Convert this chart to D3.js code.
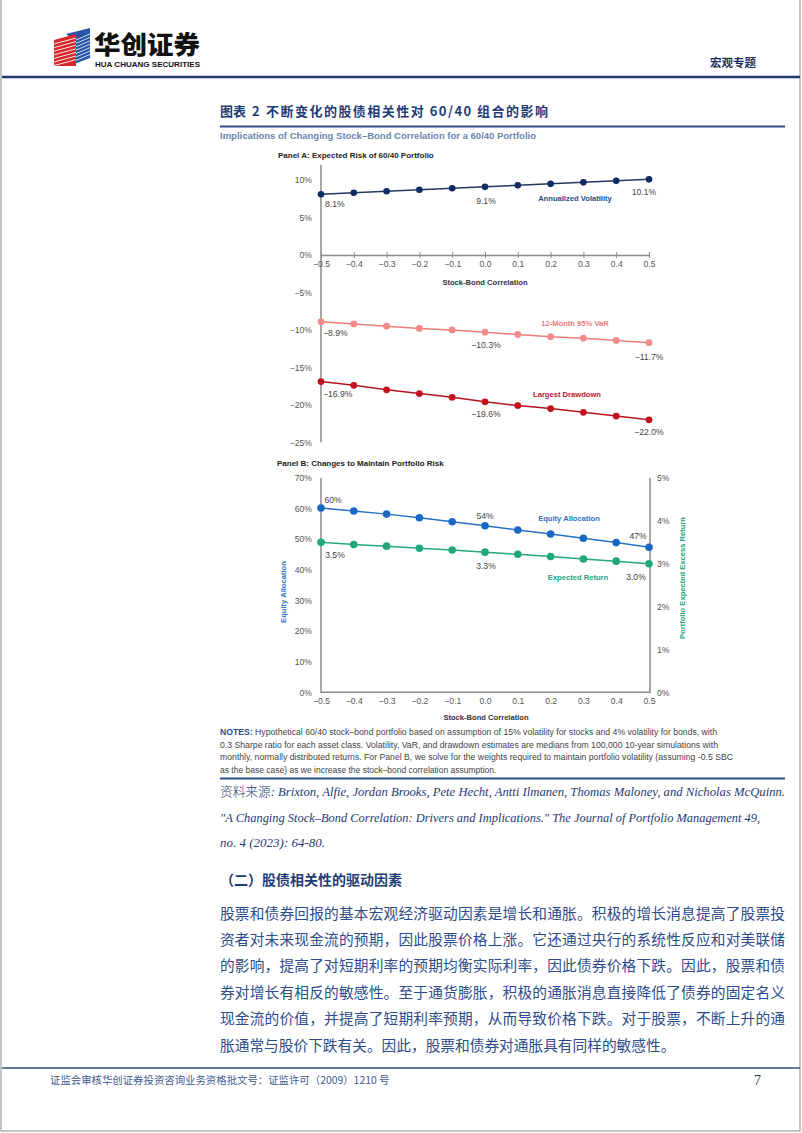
<!DOCTYPE html>
<html><head><meta charset="utf-8">
<script src="https://cdn.jsdelivr.net/npm/d3@7"></script>
<style>body{margin:0;background:#fff} svg{display:block}</style>
</head><body><svg id="page" width="802" height="1133"></svg>
<script>
// ---------- DATA ----------
const correlation = [-0.5,-0.4,-0.3,-0.2,-0.1,0,0.1,0.2,0.3,0.4,0.5];
const annualizedVolatility = [8.1,8.3,8.5,8.7,8.9,9.1,9.3,9.5,9.7,9.9,10.1];
const var95 = [-8.9,-9.2,-9.5,-9.8,-10.0,-10.3,-10.6,-10.9,-11.1,-11.4,-11.7];
const largestDrawdown = [-16.9,-17.4,-18.0,-18.5,-19.0,-19.6,-20.1,-20.5,-21.0,-21.5,-22.0];
const equityAllocation = [60.2,59.2,58.2,57.0,55.7,54.4,53.0,51.7,50.3,48.9,47.4];
const expectedReturn = [3.50,3.45,3.41,3.36,3.32,3.27,3.22,3.17,3.11,3.06,3.00];
const panelATicks = [-25,-20,-15,-10,-5,0,5,10];
const panelBLeftTicks = [0,10,20,30,40,50,60,70];
const panelBRightTicks = [0,1,2,3,4,5];
const labelledIdx = [0,5,10];

const notesLines = [
 "Hypothetical 60/40 stock–bond portfolio based on assumption of 15% volatility for stocks and 4% volatility for bonds, with",
 "0.3 Sharpe ratio for each asset class. Volatility, VaR, and drawdown estimates are medians from 100,000 10-year simulations with",
 "monthly, normally distributed returns. For Panel B, we solve for the weights required to maintain portfolio volatility (assuming -0.5 SBC",
 "as the base case) as we increase the stock–bond correlation assumption."
];
const sourceLines = [
 "Brixton, Alfie, Jordan Brooks, Pete Hecht, Antti Ilmanen, Thomas Maloney, and Nicholas McQuinn.",
 "\"A Changing Stock–Bond Correlation: Drivers and Implications.\" The Journal of Portfolio Management 49,",
 "no. 4 (2023): 64-80."
];
const bodyLines = [
 "股票和债券回报的基本宏观经济驱动因素是增长和通胀。积极的增长消息提高了股票投",
 "资者对未来现金流的预期，因此股票价格上涨。它还通过央行的系统性反应和对美联储",
 "的影响，提高了对短期利率的预期均衡实际利率，因此债券价格下跌。因此，股票和债",
 "券对增长有相反的敏感性。至于通货膨胀，积极的通胀消息直接降低了债券的固定名义",
 "现金流的价值，并提高了短期利率预期，从而导致价格下跌。对于股票，不断上升的通",
 "胀通常与股价下跌有关。因此，股票和债券对通胀具有同样的敏感性。"
];

// ---------- PAGE ----------
const svg = d3.select("#page");
const CJK = "'Noto Sans CJK SC', sans-serif";
const SANS = "'Liberation Sans', Arial, sans-serif";
const SERIF = "'Liberation Serif', 'Times New Roman', serif";
const NAVY = "#1f3b76";

svg.append("rect").attr("x",1).attr("y",-2).attr("width",799).attr("height",1133)
  .attr("fill","none").attr("stroke","#8c8c8c").attr("stroke-width",1);

// logo
const logo = svg.append("g");
logo.append("path").attr("d","M66,34 L90,28 L90,58 L74,64 L74,40 Z").attr("fill","#2a55a6");
logo.append("path").attr("d","M54,40 L76,34 L76,66 L54,66 Z").attr("fill","#d7262e");
for (let i=0;i<7;i++){
  logo.append("line").attr("x1",54).attr("y1",44+i*3.6).attr("x2",76).attr("y2",38+i*3.6)
    .attr("stroke","#fff").attr("stroke-width",0.9);
  logo.append("line").attr("x1",76).attr("y1",40+i*3.4).attr("x2",90).attr("y2",34+i*3.4)
    .attr("stroke","#fff").attr("stroke-width",0.8);
}
svg.append("text").attr("x",94).attr("y",54).attr("font-family",CJK).attr("font-weight",900)
  .attr("font-size",25).attr("fill","#111").attr("textLength",106).attr("lengthAdjust","spacingAndGlyphs").text("华创证券");
svg.append("text").attr("x",95).attr("y",66.5).attr("font-family",SANS).attr("font-weight",700)
  .attr("font-size",7.4).attr("fill","#111").attr("textLength",105).attr("lengthAdjust","spacingAndGlyphs").text("HUA CHUANG SECURITIES");
svg.append("text").attr("x",710).attr("y",67).attr("font-family",CJK).attr("font-weight",700)
  .attr("font-size",11.5).attr("fill","#1b2f5c").text("宏观专题");
svg.append("line").attr("x1",2).attr("x2",800).attr("y1",77).attr("y2",77).attr("stroke","#1f3a6e").attr("stroke-width",2.5);

// figure title
svg.append("text").attr("x",220).attr("y",116).attr("font-family",CJK).attr("font-weight",700)
  .attr("font-size",13).attr("fill",NAVY).text("图表");
svg.append("text").attr("x",252).attr("y",116).attr("font-family",CJK).attr("font-weight",700)
  .attr("font-size",13).attr("fill",NAVY).text("2");
svg.append("text").attr("x",266).attr("y",116).attr("font-family",CJK).attr("font-weight",700)
  .attr("font-size",13).attr("fill",NAVY).attr("textLength",282).attr("lengthAdjust","spacing")
  .text("不断变化的股债相关性对 60/40 组合的影响");
svg.append("line").attr("x1",220).attr("x2",785).attr("y1",126.5).attr("y2",126.5).attr("stroke","#2c4f8a").attr("stroke-width",1.8);
svg.append("text").attr("x",220).attr("y",138.5).attr("font-family",SANS).attr("font-weight",700)
  .attr("font-size",8.6).attr("fill","#6a86ad").attr("textLength",316).attr("lengthAdjust","spacingAndGlyphs")
  .text("Implications of Changing Stock–Bond Correlation for a 60/40 Portfolio");

// ---------- PANEL A ----------
const x = d3.scaleLinear().domain([-0.5,0.5]).range([321,649]);
const yA = d3.scaleLinear().domain([-25,12]).range([442.3,165.1]);
const fmtX = d3.format(".1f");
const fmt1 = d3.format(".1f");

svg.append("text").attr("x",278).attr("y",158).attr("font-family",SANS).attr("font-weight",700)
  .attr("font-size",8).attr("fill","#222").text("Panel A: Expected Risk of 60/40 Portfolio");

const gA = svg.append("g");
const yAxisA = gA.append("g").attr("transform","translate(321,0)")
  .call(d3.axisLeft(yA).tickValues(panelATicks).tickSize(0).tickPadding(9).tickFormat(d=>d3.format("d")(d)+"%"));
yAxisA.select(".domain").remove();
yAxisA.selectAll("text").attr("font-family",SANS).attr("font-size",8.6).attr("fill","#555");
gA.append("line").attr("x1",321).attr("x2",321).attr("y1",yA(12)).attr("y2",yA(-25))
  .attr("stroke","#8a8a8a").attr("stroke-width",1.5);
const xAxisA = gA.append("g").attr("transform",`translate(0,${yA(0)})`)
  .call(d3.axisBottom(x).tickValues(correlation).tickSizeOuter(0).tickSizeInner(3).tickPadding(3).tickFormat(fmtX));
xAxisA.select(".domain").attr("stroke","#8a8a8a").attr("stroke-width",1.3);
xAxisA.selectAll(".tick line").attr("y1",-3).attr("y2",3).attr("stroke","#8a8a8a").attr("stroke-width",1);
xAxisA.selectAll("text").attr("font-family",SANS).attr("font-size",8.6).attr("fill","#555");
gA.append("text").attr("x",485).attr("y",285).attr("text-anchor","middle").attr("font-family",SANS)
  .attr("font-weight",700).attr("font-size",7.6).attr("fill","#333").text("Stock-Bond Correlation");

function series(g, xs, ys, yScale, color, lineColor, r, lw){
  const pts = xs.map((v,i)=>[x(v), yScale(ys[i])]);
  g.append("path").attr("d", d3.line()(pts)).attr("fill","none").attr("stroke",lineColor).attr("stroke-width",lw);
  g.selectAll(null).data(pts).enter().append("circle")
    .attr("cx",d=>d[0]).attr("cy",d=>d[1]).attr("r",r).attr("fill",color);
}
function valueLabels(g, ys, yScale, fmt, offs){
  labelledIdx.forEach((idx,k)=>{
    const o = offs[k];
    g.append("text").attr("x", x(correlation[idx])+o[0]).attr("y", yScale(ys[idx])+o[1])
      .attr("text-anchor",o[2]).attr("font-family",SANS).attr("font-size",8.6).attr("fill","#444")
      .text(fmt(ys[idx])+"%");
  });
}
function seriesLabel(g, txt, cx, cy, color){
  g.append("text").attr("x",cx).attr("y",cy).attr("text-anchor","middle").attr("font-family",SANS)
    .attr("font-weight",700).attr("font-size",7.6).attr("fill",color).text(txt);
}

series(gA, correlation, annualizedVolatility, yA, "#0f2b63", "#26365f", 3.3, 1.5);
series(gA, correlation, var95, yA, "#f28a8a", "#f07b7b", 3.4, 1.5);
series(gA, correlation, largestDrawdown, yA, "#c3101f", "#b5141f", 3.4, 1.5);

valueLabels(gA, annualizedVolatility, yA, fmt1, [[4,13,"start"],[1,17,"middle"],[-5,16,"middle"]]);
valueLabels(gA, var95, yA, fmt1, [[2,14,"start"],[1,16,"middle"],[0,17,"middle"]]);
valueLabels(gA, largestDrawdown, yA, fmt1, [[2,15,"start"],[1,15,"middle"],[0,15,"middle"]]);

seriesLabel(gA, "Annualized Volatility", 575, 201, "#2c4a86");
seriesLabel(gA, "12-Month 95% VaR", 575, 326, "#f07b7b");
seriesLabel(gA, "Largest Drawdown", 567, 397, "#b8202a");

// ---------- PANEL B ----------
const yL = d3.scaleLinear().domain([0,70]).range([692.3,478]);
const yR = d3.scaleLinear().domain([0,5]).range([692.3,478]);
svg.append("text").attr("x",277).attr("y",466).attr("font-family",SANS).attr("font-weight",700)
  .attr("font-size",8).attr("fill","#222").text("Panel B: Changes to Maintain Portfolio Risk");

const gB = svg.append("g");
const yAxisL = gB.append("g").attr("transform","translate(321,0)")
  .call(d3.axisLeft(yL).tickValues(panelBLeftTicks).tickSize(0).tickPadding(9).tickFormat(d=>d+"%"));
yAxisL.select(".domain").remove();
yAxisL.selectAll("text").attr("font-family",SANS).attr("font-size",8.6).attr("fill","#555");
const yAxisR = gB.append("g").attr("transform","translate(650,0)")
  .call(d3.axisRight(yR).tickValues(panelBRightTicks).tickSize(0).tickPadding(7).tickFormat(d=>d+"%"));
yAxisR.select(".domain").remove();
yAxisR.selectAll("text").attr("font-family",SANS).attr("font-size",8.6).attr("fill","#555");
const xAxisB = gB.append("g").attr("transform",`translate(0,${yL(0)})`)
  .call(d3.axisBottom(x).tickValues(correlation).tickSize(0).tickPadding(6).tickFormat(fmtX));
xAxisB.select(".domain").remove();
xAxisB.selectAll("text").attr("font-family",SANS).attr("font-size",8.6).attr("fill","#555");
gB.append("path").attr("d",`M${x(-0.5)},${yL(70)} V${yL(0)} H650 V${yR(5)}`)
  .attr("fill","none").attr("stroke","#8a8a8a").attr("stroke-width",1.5);
gB.append("text").attr("x",486).attr("y",720).attr("text-anchor","middle").attr("font-family",SANS)
  .attr("font-weight",700).attr("font-size",7.6).attr("fill","#333").text("Stock-Bond Correlation");
gB.append("text").attr("transform","translate(286,592) rotate(-90)").attr("text-anchor","middle")
  .attr("font-family",SANS).attr("font-weight",700).attr("font-size",7.6).attr("fill","#2f72c4").text("Equity Allocation");
gB.append("text").attr("transform","translate(685,578) rotate(-90)").attr("text-anchor","middle")
  .attr("font-family",SANS).attr("font-weight",700).attr("font-size",7.6).attr("fill","#26a37c").text("Portfolio Expected Excess Return");

series(gB, correlation, equityAllocation, yL, "#1b67c4", "#2a70c6", 3.8, 1.5);
series(gB, correlation, expectedReturn, yR, "#1fa67c", "#27a77f", 3.8, 1.5);
valueLabels(gB, equityAllocation, yL, d3.format(".0f"), [[12,-5,"middle"],[0,-7,"middle"],[-11,-8,"middle"]]);
valueLabels(gB, expectedReturn, yR, fmt1, [[14,16,"middle"],[1,17,"middle"],[-13,16,"middle"]]);
seriesLabel(gB, "Equity Allocation", 569, 521, "#2f72c4");
seriesLabel(gB, "Expected Return", 578, 580, "#26a37c");

// ---------- NOTES & SOURCE ----------
const notes = svg.append("g");
const notesWidths = [497, 498, 513, null];
notesLines.forEach((t,i)=>{
  const tx = notes.append("text").attr("x",220).attr("y",735+i*12.6).attr("font-family",SANS)
    .attr("font-size",8.5).attr("fill","#444");
  if(notesWidths[i]) tx.attr("textLength",notesWidths[i]).attr("lengthAdjust","spacingAndGlyphs");
  if(i===0){ tx.append("tspan").attr("font-weight",700).attr("fill","#2c4a86").text("NOTES: "); }
  tx.append("tspan").text(t);
});
svg.append("line").attr("x1",220).attr("x2",785).attr("y1",778.5).attr("y2",778.5).attr("stroke","#2c4f8a").attr("stroke-width",1.8);
const sourceWidths = [565, 540, null];
sourceLines.forEach((t,i)=>{
  const tx = svg.append("text").attr("x",220).attr("y",796+i*25.6).attr("font-family",SERIF)
    .attr("font-style","italic").attr("font-size",13).attr("fill",NAVY);
  if(sourceWidths[i]) tx.attr("textLength",sourceWidths[i]).attr("lengthAdjust","spacingAndGlyphs");
  if(i===0){ tx.append("tspan").attr("font-family",CJK).attr("font-style","normal").attr("font-weight",300).text("资料来源"); tx.append("tspan").text(": "+t);} 
  else tx.text(t);
});

// ---------- BODY ----------
svg.append("text").attr("x",220).attr("y",885).attr("font-family",CJK).attr("font-weight",700)
  .attr("font-size",14).attr("fill",NAVY).text("（二）股债相关性的驱动因素");
bodyLines.forEach((t,i)=>{
  const tx = svg.append("text").attr("x",220).attr("y",918.5+i*26.4).attr("font-family",CJK)
    .attr("font-size",14.7).attr("fill","#2d4c8a").text(t);
  if(i<bodyLines.length-1) tx.attr("textLength",565).attr("lengthAdjust","spacing");
});

// ---------- FOOTER ----------
svg.append("line").attr("x1",2).attr("x2",800).attr("y1",1068).attr("y2",1068).attr("stroke","#2c4f7a").attr("stroke-width",1.5);
svg.append("text").attr("x",50).attr("y",1084).attr("font-family",CJK).attr("font-size",10.4)
  .attr("fill","#3d5a8f").text("证监会审核华创证券投资咨询业务资格批文号：证监许可（2009）1210 号");
svg.append("text").attr("x",754).attr("y",1085).attr("font-family",SERIF).attr("font-size",14)
  .attr("fill","#333").text("7");
</script></body></html>
